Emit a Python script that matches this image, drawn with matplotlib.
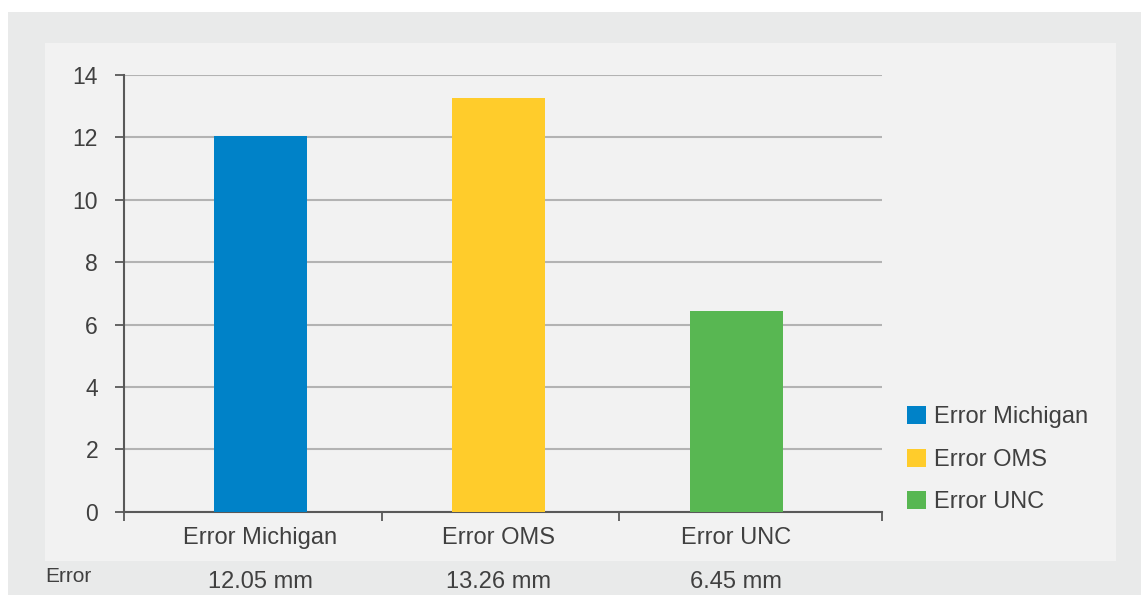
import matplotlib
matplotlib.use('Agg')
import matplotlib.pyplot as plt
from matplotlib.patches import Rectangle
from matplotlib.transforms import blended_transform_factory

plt.rcParams['font.family'] = ['Liberation Sans', 'DejaVu Sans']

# data
categories = ['Error Michigan', 'Error OMS', 'Error UNC']
errors_mm = [12.05, 13.26, 6.45]
bar_colors = ['#0082c8', '#ffcc2b', '#58b752']
yticks = [0, 2, 4, 6, 8, 10, 12, 14]
row_label = 'Error'

text_col = '#404040'
axis_col = '#595959'

W, H = 1141, 595
fig = plt.figure(figsize=(W / 100, H / 100), dpi=100)
fig.patch.set_facecolor('white')

# outer grey frame and lighter inner panel
fig.patches.append(Rectangle((8 / W, 0), 1 - 8 / W, (H - 12) / H,
                             transform=fig.transFigure, facecolor='#e9eaea',
                             edgecolor='none', zorder=-2))
fig.patches.append(Rectangle((45 / W, (H - 561) / H), (1116 - 45) / W, (561 - 43) / H,
                             transform=fig.transFigure, facecolor='#f2f2f2',
                             edgecolor='none', zorder=-1))

ax = fig.add_axes([123.7 / W, (H - 511.7) / H, (882 - 123.7) / W, (511.7 - 75) / H])
ax.patch.set_visible(False)

x = list(range(len(categories)))
bars = ax.bar(x, errors_mm, width=0.39, color=bar_colors, zorder=3)

x0, x1 = -0.574, 2.612
ax.set_xlim(x0, x1)
ax.set_ylim(0, 14)
ax.set_yticks(yticks)
ax.yaxis.grid(True, color='#b3b3b3', linewidth=1.5, zorder=0)
ax.set_axisbelow(True)

for s in ['top', 'right']:
    ax.spines[s].set_visible(False)
for s in ['left', 'bottom']:
    ax.spines[s].set_color(axis_col)
    ax.spines[s].set_linewidth(1.5)

ax.set_xticks(x)
ax.set_xticklabels(categories)
ax.set_xticks([x0, 0.51, 1.506, x1], minor=True)
ax.tick_params(axis='x', which='major', length=0, pad=11, labelsize=17, labelcolor=text_col)
ax.tick_params(axis='x', which='minor', length=6.5, width=1.3, color=axis_col, direction='out')
ax.tick_params(axis='y', length=6.5, width=1.3, color=axis_col, pad=12,
               labelsize=16.5, labelcolor=text_col)

# table row under the axis
trans = blended_transform_factory(ax.transData, fig.transFigure)
for xi, v in zip(x, errors_mm):
    ax.text(xi, (H - 582) / H, f'{v:.2f} mm', transform=trans, ha='center', va='center',
            fontsize=17, color=text_col, clip_on=False)
fig.text(45 / W, (H - 577) / H, row_label, ha='left', va='center', fontsize=15, color=text_col)

handles = [Rectangle((0, 0), 1, 1, facecolor=c, edgecolor='none') for c in bar_colors]
fig.legend(handles, categories, loc='upper left', bbox_to_anchor=(907 / W, (H - 406) / H),
           frameon=False, fontsize=17, handlelength=0.8, handleheight=0.8,
           handletextpad=0.35, labelspacing=0.86, borderpad=0, borderaxespad=0,
           labelcolor=text_col)

fig.savefig('out.png', dpi=100)
